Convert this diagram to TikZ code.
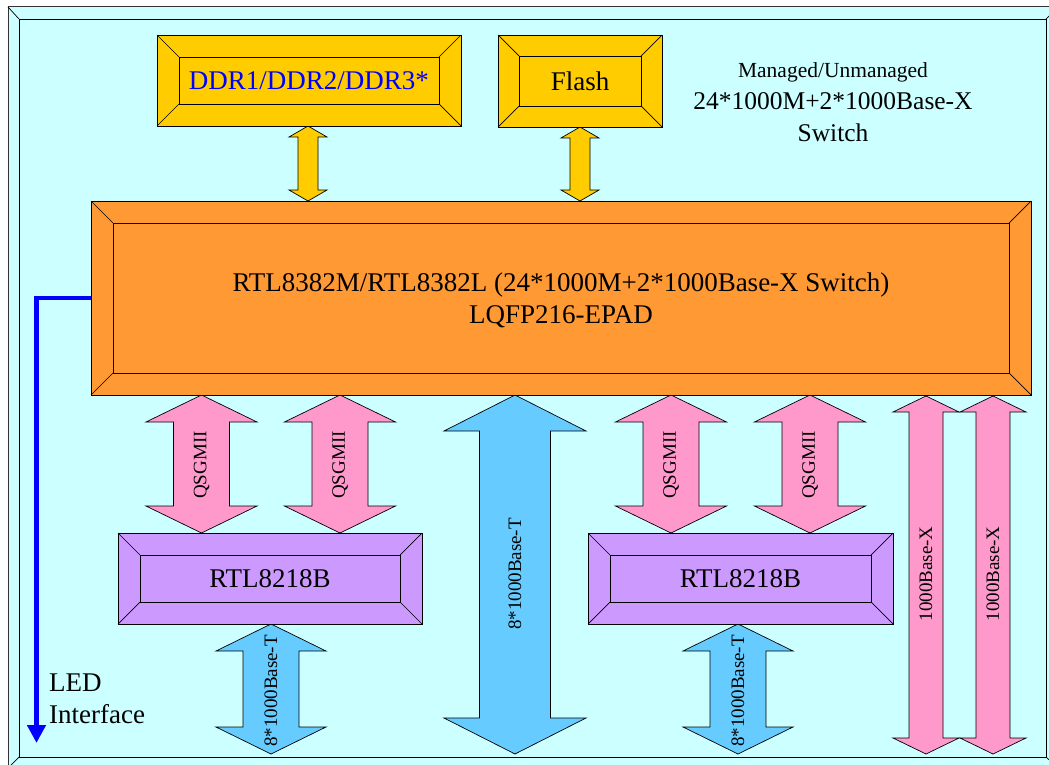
\documentclass[tikz,border=0pt]{standalone}
\usepackage{fontspec}
\setmainfont{Liberation Serif}
\usetikzlibrary{arrows.meta}
\definecolor{bgc}{HTML}{CCFFFF}
\definecolor{gold}{HTML}{FFCC00}
\definecolor{chiporange}{HTML}{FF9933}
\definecolor{phypurple}{HTML}{CC99FF}
\definecolor{linkpink}{HTML}{FF99CC}
\definecolor{linkblue}{HTML}{66CCFF}
\definecolor{ledblue}{HTML}{0000FF}
\newcommand\bevelbox[7]{% name, x1, y1, x2, y2, bevel, fill
  \node[draw, fill=#7, line width=0.8pt, inner sep=0pt, outer sep=0pt,
        minimum width={#4-#2}, minimum height={#5-#3}] (#1) at ({(#2+#4)/2},{(#3+#5)/2}) {};
  \draw[line width=0.8pt] ({#2+#6},{#3+#6}) rectangle ({#4-#6},{#5-#6});
  \draw[line width=0.7pt] (#1.north west) -- ({#2+#6},{#3+#6})
        (#1.north east) -- ({#4-#6},{#3+#6})
        (#1.south west) -- ({#2+#6},{#5-#6})
        (#1.south east) -- ({#4-#6},{#5-#6});
}
\newcommand\blockarrow[7]{% cx, ytop, ybot, shaft half, head half, head length, fill
  \filldraw[fill=#7, draw=black, line width=0.7pt]
    (#1,#2) -- ({#1+#5},{#2+#6}) -- ({#1+#4},{#2+#6}) -- ({#1+#4},{#3-#6})
    -- ({#1+#5},{#3-#6}) -- (#1,#3) -- ({#1-#5},{#3-#6}) -- ({#1-#4},{#3-#6})
    -- ({#1-#4},{#2+#6}) -- ({#1-#5},{#2+#6}) -- cycle;
}
\tikzset{
  big/.style={font=\fontsize{27}{32}\selectfont},
  mid/.style={font=\fontsize{25.5}{30}\selectfont},
  small/.style={font=\fontsize{21.5}{26}\selectfont},
  vlabel/.style={rotate=90, font=\fontsize{19}{22}\selectfont, inner sep=0pt},
}
\begin{document}
\begin{tikzpicture}[x=1pt, y=-1pt, line join=miter]
\useasboundingbox (0,0) rectangle (1049,765);
\clip (0,0) rectangle (1049,765);
\fill[white] (0,0) rectangle (1049,765);
% frame
\filldraw[fill=bgc, draw=black!80, line width=1pt] (8,7) rectangle (1058,768);
\draw[line width=0.8pt] (19,19) rectangle (1046,757);
\draw[line width=0.7pt] (8,7) -- (19,19) (8,768) -- (19,757) (1058,7) -- (1046,19) (1058,768) -- (1046,757);

% block arrows
\blockarrow{308}{126}{201}{10}{19}{11}{gold}
\blockarrow{580}{127}{201}{10}{19}{11}{gold}
\blockarrow{201.5}{395}{533}{28}{55.5}{27}{linkpink}
\blockarrow{340}{395}{533}{28}{55.5}{27}{linkpink}
\blockarrow{671}{395}{533}{28}{55.5}{27}{linkpink}
\blockarrow{810}{395}{533}{28}{55.5}{27}{linkpink}
\blockarrow{515}{395}{754}{35.5}{71}{36}{linkblue}
\blockarrow{271}{624}{754}{28}{55}{27}{linkblue}
\blockarrow{738}{624}{754}{28}{55}{27}{linkblue}
\blockarrow{926}{396}{754}{17}{33}{16}{linkpink}
\blockarrow{993}{396}{754}{17}{33}{16}{linkpink}

% boxes
\bevelbox{ddr}{157}{35}{461}{126}{22}{gold}
\bevelbox{flash}{498}{35}{662}{127}{21}{gold}
\bevelbox{chip}{91}{201}{1031}{395}{22}{chiporange}
\bevelbox{phyA}{118}{533}{422}{624}{22}{phypurple}
\bevelbox{phyB}{588}{533}{893}{624}{22}{phypurple}

% box texts
\node[big, text=ledblue] (ddrt) at (ddr) {DDR1/DDR2/DDR3*};
\node[big] (flasht) at (flash) {Flash};
\node[big, align=center] (chipt) at (561,300) {RTL8382M/RTL8382L (24*1000M+2*1000Base-X Switch)\\LQFP216-EPAD};
\node[big] (phyAt) at (phyA) {RTL8218B};
\node[big] (phyBt) at (phyB) {RTL8218B};

% title
\node[small, anchor=base] (t1) at (833,78) {Managed/Unmanaged};
\node[mid, anchor=base] (t2) at (833,110) {24*1000M+2*1000Base-X};
\node[mid, anchor=base] (t3) at (833,142) {Switch};

% arrow labels
\node[vlabel] (q1) at (201.5,465) {QSGMII};
\node[vlabel] (q2) at (340,465) {QSGMII};
\node[vlabel] (q3) at (671,465) {QSGMII};
\node[vlabel] (q4) at (810,465) {QSGMII};
\node[vlabel] (bt0) at (515,574) {8*1000Base-T};
\node[vlabel] (bt1) at (271,691) {8*1000Base-T};
\node[vlabel] (bt2) at (738,691) {8*1000Base-T};
\node[vlabel] (bx1) at (926,574) {1000Base-X};
\node[vlabel] (bx2) at (993,574) {1000Base-X};

% LED interface
\coordinate (ledend) at (36.5,743);
\draw[ledblue, line width=4.5pt, -{Triangle[width=18pt,length=18pt]}]
  (chip.west) -- (chip.west -| ledend) -- (ledend);
\node[big, anchor=base west, inner sep=0pt] (led1) at (49,691) {LED};
\node[big, anchor=base west, inner sep=0pt] (led2) at (49,723) {Interface};
\end{tikzpicture}
\end{document}
